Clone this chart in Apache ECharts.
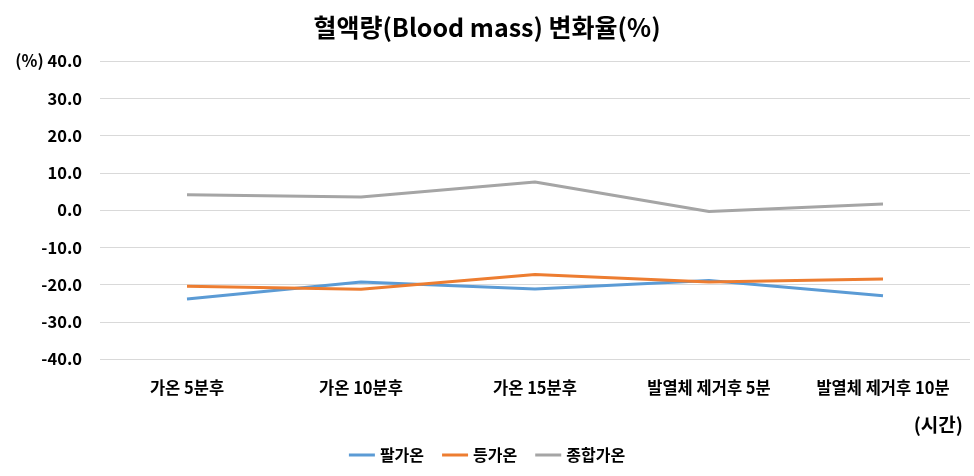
<!DOCTYPE html>
<html><head><meta charset="utf-8">
<script src="https://cdn.jsdelivr.net/npm/echarts@6/dist/echarts.min.js"></script>
<style>html,body{margin:0;padding:0;background:#fff}#c{width:974px;height:476px}</style>
</head><body><div id="c"></div>
<script>
const categories = ['가온 5분후', '가온 10분후', '가온 15분후', '발열체 제거후 5분', '발열체 제거후 10분'];
const armValues = [-23.9, -19.3, -21.2, -18.9, -23.0];
const backValues = [-20.5, -21.3, -17.3, -19.3, -18.5];
const totalValues = [4.1, 3.5, 7.5, -0.4, 1.6];
const seriesNames = ['팔가온', '등가온', '종합가온'];
const colors = ['#5B9BD5', '#ED7D31', '#A5A5A5'];
const font = '"Noto Sans CJK KR", "Noto Sans", sans-serif';

const chart = echarts.init(document.getElementById('c'));
chart.setOption({
  animation: false,
  title: {
    text: '혈액량(Blood mass) 변화율(%)', left: 'center', top: 10,
    textStyle: { fontFamily: font, fontSize: 25, fontWeight: 'bold', color: '#000' }
  },
  grid: { left: 100, right: 4, top: 61, bottom: 117, containLabel: false },
  legend: {
    bottom: 8, left: 'center', itemWidth: 26, itemHeight: 3, itemGap: 18,
    icon: 'rect',
    textStyle: { fontFamily: font, fontSize: 16, fontWeight: 'bold', color: '#000' },
    data: seriesNames
  },
  xAxis: {
    type: 'category', data: categories,
    axisLine: { show: false }, axisTick: { show: false },
    axisLabel: { interval: 0, hideOverlap: false, fontFamily: font, fontSize: 16.5, fontWeight: 'bold', color: '#000', margin: 20 }
  },
  yAxis: {
    type: 'value', min: -40, max: 40, interval: 10,
    axisLine: { show: false }, axisTick: { show: false },
    splitLine: { lineStyle: { color: '#d9d9d9', width: 1 } },
    axisLabel: {
      fontFamily: font, fontSize: 16.5, fontWeight: 'bold', color: '#000', margin: 18,
      formatter: v => (v === 40 ? '(%) ' : '') + v.toFixed(1)
    }
  },
  graphic: [{
    type: 'text', right: 11, top: 415,
    style: { text: '(시간)', font: 'bold 19px ' + font, fill: '#000' }
  }],
  series: [armValues, backValues, totalValues].map((d, i) => ({
    name: seriesNames[i], type: 'line', data: d, symbol: 'none',
    lineStyle: { width: 3, color: colors[i] }, itemStyle: { color: colors[i] }
  }))
});
</script></body></html>
